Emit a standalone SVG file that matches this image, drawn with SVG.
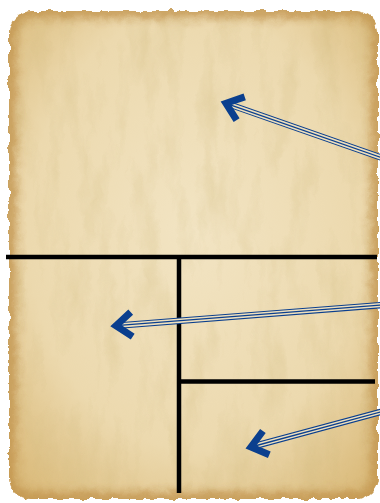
<svg xmlns="http://www.w3.org/2000/svg" width="380" height="503" viewBox="0 0 380 503">
  <style>
    .divider { stroke: #000; stroke-width: 4.5; stroke-linecap: butt; fill: none; }
    .shaft-outer { stroke: #0b3f8e; stroke-width: 6.5; fill: none; }
    .shaft-gap { stroke: #efe0bd; stroke-width: 4.3; fill: none; }
    .shaft-core { stroke: #0b3f8e; stroke-width: 1.3; fill: none; }
    .head { stroke: #0b3f8e; stroke-width: 7; fill: none; stroke-linejoin: miter; stroke-miterlimit: 10; }
  </style>
  <defs>
    <radialGradient id="paper" cx="0.5" cy="0.45" r="0.75">
      <stop offset="0" stop-color="#f2e4c3"/>
      <stop offset="0.6" stop-color="#ecd9ae"/>
      <stop offset="1" stop-color="#d6b36e"/>
    </radialGradient>
    <filter id="rough" x="-5%" y="-5%" width="110%" height="110%">
      <feTurbulence type="fractalNoise" baseFrequency="0.09" numOctaves="3" seed="4" result="n"/>
      <feDisplacementMap in="SourceGraphic" in2="n" scale="7" xChannelSelector="R" yChannelSelector="G"/>
    </filter>
    <filter id="tex" x="0" y="0" width="100%" height="100%">
      <feTurbulence type="fractalNoise" baseFrequency="0.05 0.012" numOctaves="4" seed="7" result="t"/>
      <feColorMatrix in="t" type="matrix" values="0 0 0 0 0.62  0 0 0 0 0.48  0 0 0 0 0.2  1.2 0 0 0 -0.55" result="c"/>
      <feComposite in="c" in2="SourceGraphic" operator="in"/>
    </filter>
    <filter id="blur" x="-10%" y="-10%" width="120%" height="120%">
      <feGaussianBlur stdDeviation="5"/>
    </filter>
    <clipPath id="sheetClip">
      <rect x="9" y="11" width="369" height="488" rx="22"/>
    </clipPath>
  </defs>

  <g id="parchment" filter="url(#rough)">
    <rect x="9" y="11" width="369" height="488" rx="22" fill="url(#paper)"/>
    <g clip-path="url(#sheetClip)">
      <rect x="9" y="11" width="369" height="488" fill="#fff" filter="url(#tex)" opacity="0.55"/>
      <rect x="9" y="11" width="369" height="488" rx="22" fill="none" stroke="#c0914a" stroke-width="14" filter="url(#blur)" opacity="0.8"/>
    </g>
  </g>

  <g id="dividers">
    <line class="divider" x1="6" y1="257" x2="377" y2="257"/>
    <line class="divider" x1="179" y1="257" x2="179" y2="493"/>
    <line class="divider" x1="179" y1="381.5" x2="375" y2="381.5"/>
  </g>

  <g id="connectors">
    <g id="arrow-top">
      <line class="shaft-outer" x1="226" y1="103.3" x2="382" y2="157.8"/>
      <line class="shaft-gap" x1="229" y1="104.4" x2="382" y2="157.8"/>
      <line class="shaft-core" x1="226" y1="103.3" x2="382" y2="157.8"/>
      <polyline class="head" points="244.7,96.9 226,103.3 236.6,120.1"/>
    </g>
    <g id="arrow-middle">
      <line class="shaft-outer" x1="116" y1="325.7" x2="382" y2="305"/>
      <line class="shaft-gap" x1="119" y1="325.5" x2="382" y2="305"/>
      <line class="shaft-core" x1="116" y1="325.7" x2="382" y2="305"/>
      <polyline class="head" points="130.7,312.2 116,325.7 132.7,336.7"/>
    </g>
    <g id="arrow-bottom">
      <line class="shaft-outer" x1="251" y1="447" x2="382" y2="411.6"/>
      <line class="shaft-gap" x1="254" y1="446.2" x2="382" y2="411.6"/>
      <line class="shaft-core" x1="251" y1="447" x2="382" y2="411.6"/>
      <polyline class="head" points="262.9,431 251,447 269.3,454.8"/>
    </g>
  </g>
</svg>
